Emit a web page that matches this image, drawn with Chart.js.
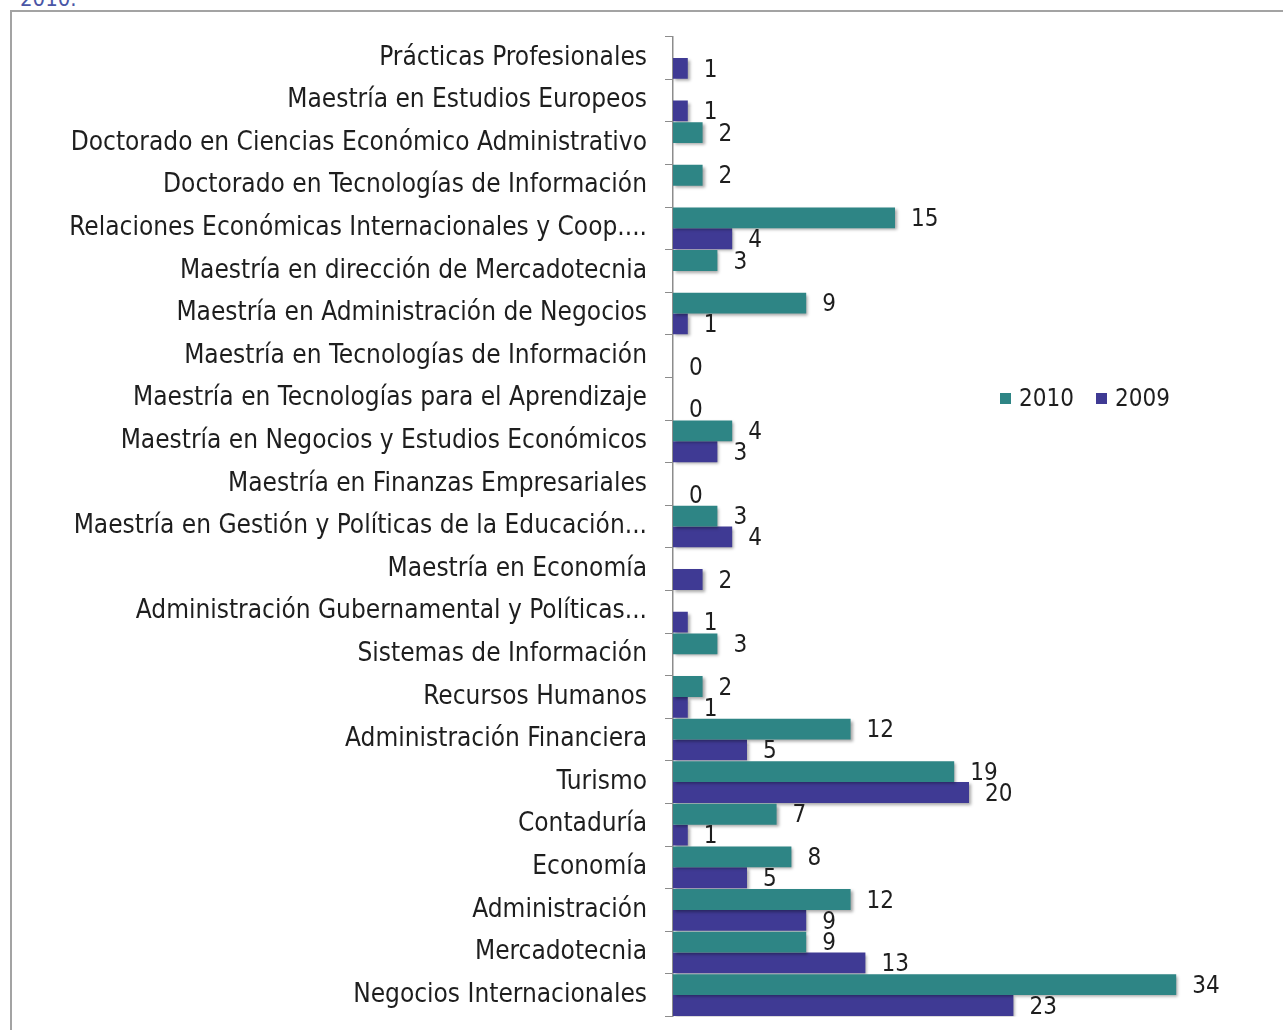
<!DOCTYPE html>
<html>
<head>
<meta charset="utf-8">
<script src="https://cdn.jsdelivr.net/npm/chart.js@4"></script>
<style>
  html, body { margin: 0; padding: 0; background: #fff; overflow: hidden; }
  body { width: 1283px; height: 1030px; position: relative; font-family: "DejaVu Sans Condensed", "DejaVu Sans", sans-serif; }
  .caption { position: absolute; left: 20px; top: -14px; font-size: 22px; color: #4a56a6; }
  .frame { position: absolute; left: 10px; top: 10px; width: 1300px; height: 1060px; border: 2px solid #a3a3a3; box-sizing: border-box; }
  #wrap { position: absolute; left: 12px; top: 3px; width: 1271px; height: 1047px; }
  .legend { position: absolute; left: 1000px; top: 384px; font-size: 24px; color: #1e1e1e; display: flex; align-items: center; }
  .legend span.sw { display: inline-block; width: 11px; height: 11px; margin-right: 8px; }
  .legend span.item { display: flex; align-items: center; margin-right: 22px; }
</style>
</head>
<body>
<div class="caption">2010.</div>
<div class="frame"></div>
<div id="wrap"><canvas id="chart"></canvas></div>
<div class="legend">
  <span class="item"><span class="sw" style="background:#2e8585"></span>2010</span>
  <span class="item"><span class="sw" style="background:#3f3a94"></span>2009</span>
</div>
<script>
// === Data ===
const programs = [
  "Prácticas Profesionales",
  "Maestría en Estudios Europeos",
  "Doctorado en Ciencias Económico Administrativo",
  "Doctorado en Tecnologías de Información",
  "Relaciones Económicas Internacionales y Coop....",
  "Maestría en dirección de Mercadotecnia",
  "Maestría en Administración de Negocios",
  "Maestría en Tecnologías de Información",
  "Maestría en Tecnologías para el Aprendizaje",
  "Maestría en Negocios y Estudios Económicos",
  "Maestría en Finanzas Empresariales",
  "Maestría en Gestión y Políticas de la Educación...",
  "Maestría en Economía",
  "Administración Gubernamental y Políticas...",
  "Sistemas de Información",
  "Recursos Humanos",
  "Administración Financiera",
  "Turismo",
  "Contaduría",
  "Economía",
  "Administración",
  "Mercadotecnia",
  "Negocios Internacionales"
];
const values2010 = [null, null, 2, 2, 15, 3, 9, null, null, 4, null, 3, null, null, 3, 2, 12, 19, 7, 8, 12, 9, 34];
const values2009 = [1, 1, null, null, 4, null, 1, 0, 0, 3, 0, 4, 2, 1, null, 1, 5, 20, 1, 5, 9, 13, 23];

const TEAL = '#2e8585';
const PURPLE = '#3f3a94';
const FONT = '"DejaVu Sans Condensed", "DejaVu Sans", sans-serif';

// soft drop shadow under the bars
const barShadow = {
  id: 'barShadow',
  beforeDatasetsDraw(chart) {
    const c = chart.ctx;
    c.save();
    c.shadowColor = 'rgba(0,0,0,0.35)';
    c.shadowBlur = 3;
    c.shadowOffsetX = 2;
    c.shadowOffsetY = 2;
  },
  afterDatasetsDraw(chart) {
    chart.ctx.restore();
  }
};

// value labels just past the end of each bar
const valueLabels = {
  id: 'valueLabels',
  afterDatasetsDraw(chart) {
    const c = chart.ctx;
    c.save();
    c.font = '24px ' + FONT;
    c.fillStyle = '#1e1e1e';
    c.textAlign = 'left';
    c.textBaseline = 'middle';
    chart.data.datasets.forEach((ds, i) => {
      chart.getDatasetMeta(i).data.forEach((bar, j) => {
        const v = ds.data[j];
        if (v === null || v === undefined) return;
        c.fillText(String(v), bar.x + 16, bar.y + 2);
      });
    });
    c.restore();
  }
};

new Chart(document.getElementById('chart').getContext('2d'), {
  type: 'bar',
  data: {
    labels: programs,
    datasets: [
      { label: '2010', data: values2010, backgroundColor: TEAL },
      { label: '2009', data: values2009, backgroundColor: PURPLE }
    ]
  },
  options: {
    indexAxis: 'y',
    responsive: true,
    maintainAspectRatio: false,
    animation: false,
    layout: { padding: { top: 24, bottom: 14, left: 0, right: 18 } },
    datasets: { bar: { categoryPercentage: 0.98, barPercentage: 1.0 } },
    plugins: {
      legend: { display: false },
      tooltip: { enabled: false }
    },
    scales: {
      x: { display: false, min: 0, max: 40 },
      y: {
        afterFit: (scale) => { scale.width = 661; },
        border: { display: true, color: '#8c8c8c', width: 1.5 },
        grid: { drawOnChartArea: false, color: '#8c8c8c', tickLength: 8, offset: true },
        ticks: { color: '#1e1e1e', padding: 18, font: { family: FONT, size: 26 }, autoSkip: false }
      }
    }
  },
  plugins: [barShadow, valueLabels]
});
</script>
</body>
</html>
